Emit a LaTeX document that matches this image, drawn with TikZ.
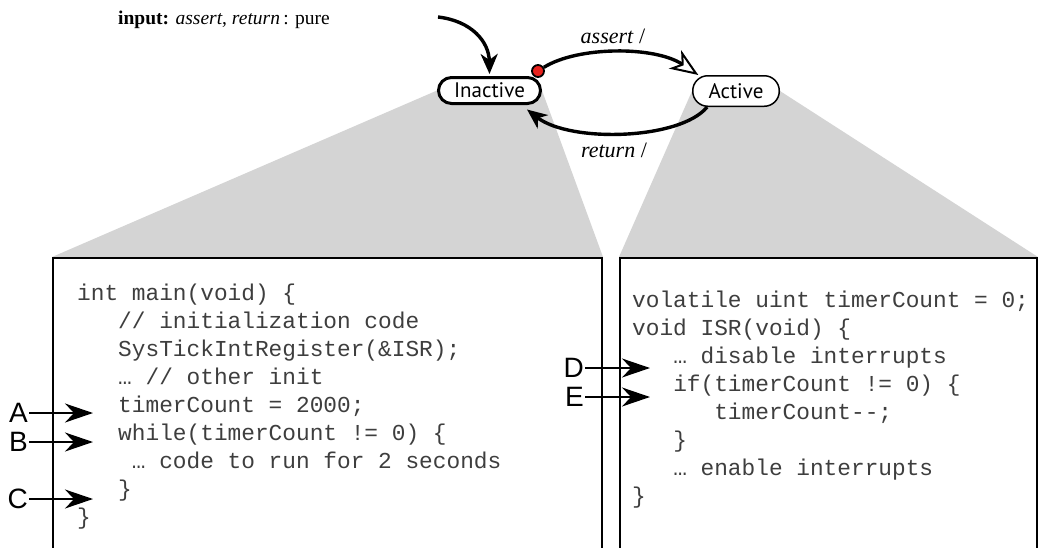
\documentclass[tikz,border=0pt]{standalone}
\usepackage{fontspec}
\setmainfont{Liberation Serif}
\setsansfont{Liberation Sans}
\setmonofont{Liberation Mono}
\newfontfamily\statefont{PT Sans}
\usetikzlibrary{arrows.meta, positioning, backgrounds}
\definecolor{fsmgray}{RGB}{212,212,212}
\definecolor{fsmred}{RGB}{232,34,30}
\definecolor{codeink}{RGB}{62,62,62}
\tikzset{
  state/.style={
    rectangle, draw=black, fill=white, inner sep=0pt,
    font=\statefont\fontsize{21}{24}\selectfont
  },
  preempt/.style={
    circle, draw=black, line width=1.8pt, fill=fsmred,
    minimum size=12pt, inner sep=0pt
  },
  trans/.style={line width=3.4pt, -{Stealth[length=20pt, width=17pt, inset=6pt]}},
  transR/.style={line width=3.4pt,
    -{Stealth[length=28pt, width=22pt, inset=8pt, fill=white, line width=2pt]}},
  translabel/.style={font=\fontsize{22}{26}\selectfont, anchor=base, inner sep=0pt},
  codebox/.style={draw=black, line width=2pt, fill=white, anchor=north west, inner sep=0pt},
  codeline/.style={
    font=\ttfamily\fontsize{22.8}{28}\selectfont, text=codeink,
    anchor=base west, inner sep=0pt
  },
  pointlabel/.style={font=\sffamily\fontsize{28}{32}\selectfont, anchor=east, inner sep=1pt},
  pointer/.style={line width=2pt, -{Stealth[length=28pt, width=19pt, inset=9pt]}},
  fan/.style={fill=fsmgray}
}

\begin{document}
\begin{tikzpicture}[x=1pt, y=-1pt]
\useasboundingbox (0,0) rectangle (1046,547);
\clip (0,0) rectangle (1046,547);

\node[anchor=base west, inner sep=0pt, font=\fontsize{19.5}{24}\selectfont] (title)
  at (118,24) {\textbf{input:} \textit{assert}, \textit{return}\,: pure};

% the two states
\node[state, line width=3pt, rounded corners=13pt,
      minimum width=102pt, minimum height=26pt]
  (inact) at (489.5,90.5) {Inactive};
\node[state, line width=1.5pt, rounded corners=15pt,
      minimum width=86.5pt, minimum height=30.5pt]
  (act) at (736,91) {Active};

% code boxes, open at the bottom of the page
\node[codebox, minimum width=549pt, minimum height=320pt] (lbox) at (52,257) {};
\node[codebox, minimum width=417pt, minimum height=320pt] (rbox) at (619,257) {};

\begin{scope}[on background layer]
  \fill[fan] (inact.west) -- (inact.east) -- (lbox.north east) -- (lbox.north west) -- cycle;
  \fill[fan] (act.west) -- (act.east) -- (rbox.north east) -- (rbox.north west) -- cycle;
\end{scope}

% transitions
\node[preempt] (dot) at (538,71) {};
\coordinate (init) at (438,17);
\draw[trans] (init) .. controls (472,21) and (489,42) .. ([yshift=2pt]inact.north);
\draw[transR] (dot) .. controls (578,46) and (655,46) .. (act.157);
\draw[trans] (act.209) .. controls (680,140) and (570,143)
  .. ([xshift=-15pt, yshift=-4.5pt]inact.south east);

\node[translabel] (lassert) at (613,43) {\textit{assert} /};
\node[translabel] (lreturn) at (614,157) {\textit{return} /};

% main program
\foreach \txt [count=\i from 0] in {
  int main(void) \{,
  \ \ \ // initialization code,
  \ \ \ SysTickIntRegister(\&ISR);,
  \ \ \ … // other init,
  \ \ \ timerCount = 2000;,
  \ \ \ while(timerCount != 0) \{,
  \ \ \ \ … code to run for 2 seconds,
  \ \ \ \},
  \}}
  \node[codeline] (lc\i) at (77,{300+28.1*\i}) {\txt};

% interrupt service routine
\foreach \txt [count=\i from 0] in {
  volatile uint timerCount = 0;,
  void ISR(void) \{,
  \ \ \ … disable interrupts,
  \ \ \ if(timerCount != 0) \{,
  \ \ \ \ \ \ timerCount-{}-;,
  \ \ \ \},
  \ \ \ … enable interrupts,
  \}}
  \node[codeline] (rc\i) at (632,{307+28.1*\i}) {\txt};

% program points
\node[pointlabel] (A) at (29,413) {A};
\node[pointlabel] (B) at (29,442) {B};
\node[pointlabel] (C) at (29,499) {C};
\node[pointlabel] (D) at (585,368) {D};
\node[pointlabel] (E) at (585,397) {E};
\coordinate (tipA) at (93,413);
\coordinate (tipB) at (93,442);
\coordinate (tipC) at (93,499);
\coordinate (tipD) at (650,368);
\coordinate (tipE) at (650,397);
\draw[pointer] (A) -- (tipA);
\draw[pointer] (B) -- (tipB);
\draw[pointer] (C) -- (tipC);
\draw[pointer] (D) -- (tipD);
\draw[pointer] (E) -- (tipE);
\end{tikzpicture}
\end{document}
